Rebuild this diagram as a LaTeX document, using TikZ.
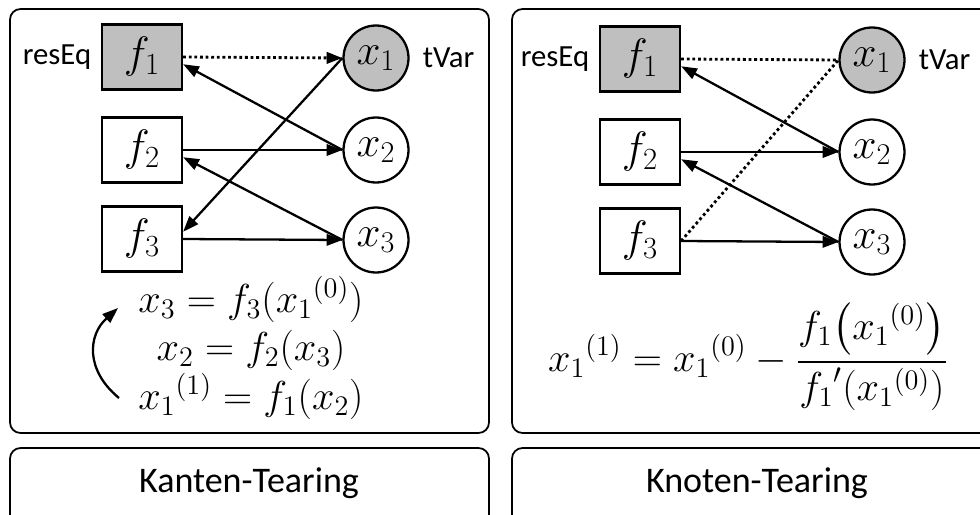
\RequirePackage{fix-cm}
\documentclass[tikz,border=0pt]{standalone}
\usepackage{amsmath}
\usepackage{fontspec}
\setmainfont{Carlito}
\definecolor{tgray}{RGB}{191,191,191}
\usetikzlibrary{arrows.meta,positioning}

\begin{document}
\begin{tikzpicture}[x=0.02cm,y=-0.02cm,
  frame/.style={line width=1pt,rounded corners=6pt},
  eqbox/.style={draw,line width=1.3pt,minimum width=1.6cm,minimum height=1.3cm,font=\fontsize{25}{30}\selectfont},
  varnode/.style={draw,circle,line width=1.3pt,minimum size=1.3cm,inner sep=0pt,font=\fontsize{24.5}{29}\selectfont},
  tag/.style={font=\fontsize{17.5}{21}\selectfont},
  formula/.style={anchor=base,font=\fontsize{23}{28}\selectfont},
  title/.style={anchor=base,font=\fontsize{20.5}{25}\selectfont},
  edge/.style={line width=1.3pt,-{Triangle[length=9pt,width=6.5pt]}},
  tear/.style={line width=1.6pt,dash pattern=on 1.6pt off 1.6pt}]
  \useasboundingbox (0,0) rectangle (980,514);
  \clip (0,0) rectangle (980,514);
  % frames
  \draw[frame] (10,9) rectangle (489,433);
  \draw[frame] (10,448) rectangle (489,560);
  \draw[frame] (512,9) rectangle (1020,433);
  \draw[frame] (512,448) rectangle (1020,560);

  % Kanten-Tearing
  \node[eqbox,fill=tgray] (kf1) at (142,57) {$f_1$};
  \node[eqbox] (kf2) at (142,150) {$f_2$};
  \node[eqbox] (kf3) at (142,239) {$f_3$};
  \node[varnode,fill=tgray] (kx1) at (376,58) {$x_1$};
  \node[varnode] (kx2) at (376,150) {$x_2$};
  \node[varnode] (kx3) at (376,240) {$x_3$};
  \node[tag,left=2pt of kf1] (kres) {resEq};
  \node[tag,right=4pt of kx1] (ktvar) {tVar};
  \draw[edge,tear] (kf1.east) -- (kx1.west);
  \draw[edge] (kx2.west) -- (kf1.-10);
  \draw[edge] (kf2.east) -- (kx2.west);
  \draw[edge] (kx1.west) -- (kf3.10);
  \draw[edge] (kx3.west) -- (kf2.-10);
  \draw[edge] (kf3.east) -- (kx3.west);
  \node[formula] (keq1) at (251,312) {$x_3 = f_3({x_1}^{(0)})$};
  \node[formula] (keq2) at (251,360) {$x_2 = f_2(x_3)$};
  \node[formula] (keq3) at (251,409) {${x_1}^{(1)} = f_1(x_2)$};
  \coordinate (kloopa) at (119,398);
  \coordinate (kloopb) at (118,308);
  \draw[edge] (kloopa) .. controls (85,370) and (88,335) .. (kloopb);
  \node[title] (ktitle) at (249,492) {Kanten-Tearing};

  % Knoten-Tearing
  \node[eqbox,fill=tgray] (nf1) at (640,59) {$f_1$};
  \node[eqbox] (nf2) at (640,152) {$f_2$};
  \node[eqbox] (nf3) at (640,241) {$f_3$};
  \node[varnode,fill=tgray] (nx1) at (872,60) {$x_1$};
  \node[varnode] (nx2) at (872,152) {$x_2$};
  \node[varnode] (nx3) at (872,242) {$x_3$};
  \node[tag,left=2pt of nf1] (nres) {resEq};
  \node[tag,right=4pt of nx1] (ntvar) {tVar};
  \draw[tear] (nf1.east) -- (nx1.west);
  \draw[tear] (nf3.east) -- (nx1.west);
  \draw[edge] (nx2.west) -- (nf1.-10);
  \draw[edge] (nf2.east) -- (nx2.west);
  \draw[edge] (nx3.west) -- (nf2.-10);
  \draw[edge] (nf3.east) -- (nx3.west);
  \node[font=\fontsize{23}{28}\selectfont] (neq) at (748,357)
    {$\displaystyle {x_1}^{(1)} = {x_1}^{(0)} - \frac{f_1\bigl({x_1}^{(0)}\bigr)}{{f_1}'({x_1}^{(0)})}$};
  \node[title] (ntitle) at (757,492) {Knoten-Tearing};
\end{tikzpicture}
\end{document}
